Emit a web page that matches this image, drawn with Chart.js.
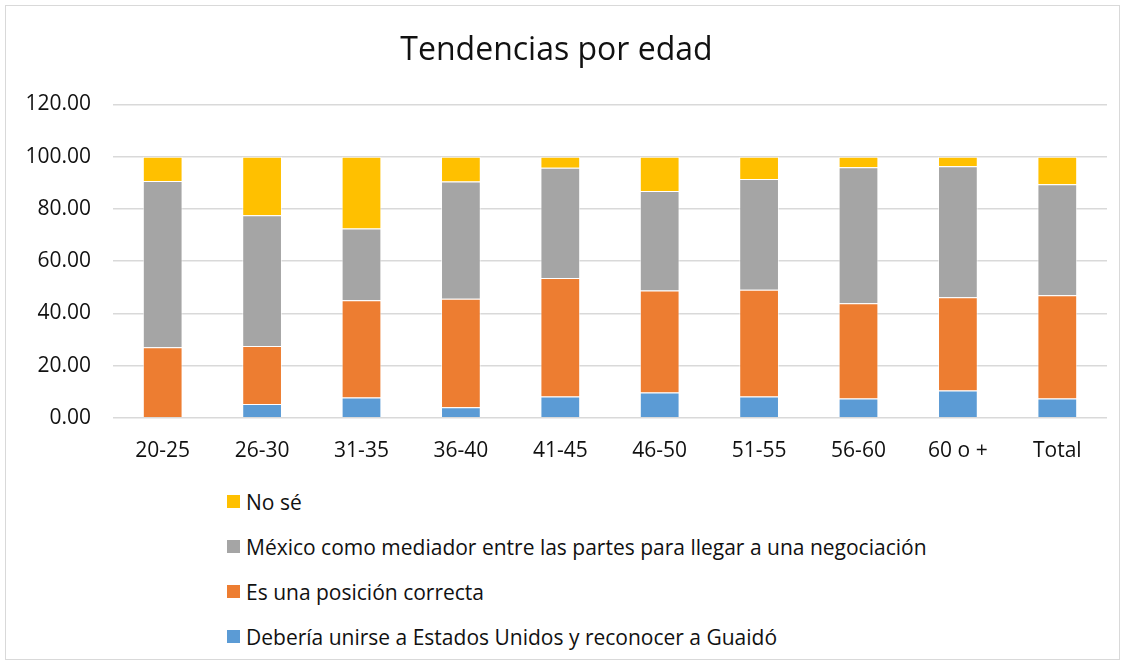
<!DOCTYPE html>
<html>
<head>
<meta charset="utf-8">
<script src="https://cdn.jsdelivr.net/npm/chart.js@4"></script>
<style>
  body { margin: 0; background: #fff; font-family: "Open Sans", Lato, sans-serif; }
  #frame { position: absolute; left: 5px; top: 5px; width: 1113px; height: 653px; border: 1px solid #d9d9d9; background: #fff; }
  #chartBox { position: absolute; left: 0; top: 0; width: 1113px; height: 471px; }
  #legend { position: absolute; left: 221px; top: 473px; }
  .item { height: 45px; display: flex; align-items: center; font-size: 21px; color: #111; white-space: nowrap; }
  .box { width: 13px; height: 13px; margin-right: 6px; flex: none; }
</style>
</head>
<body>
<div id="frame">
  <div id="chartBox"><canvas id="myChart"></canvas></div>
  <div id="legend"></div>
</div>
<script>
// Age groups
const categories = ['20-25', '26-30', '31-35', '36-40', '41-45', '46-50', '51-55', '56-60', '60 o +', 'Total'];

// Percentages per answer
const debeUnirse = [0.0, 5.3, 7.8, 4.0, 8.2, 9.7, 8.2, 7.4, 10.5, 7.4];
const posicionCorrecta = [27.0, 22.2, 37.2, 41.6, 45.3, 39.0, 40.8, 36.5, 35.7, 39.5];
const mediador = [63.7, 50.1, 27.5, 44.9, 42.2, 38.1, 42.4, 52.0, 50.1, 42.5];
const noSe = [9.3, 22.4, 27.5, 9.5, 4.3, 13.2, 8.6, 4.1, 3.7, 10.6];

const seriesNames = [
  'Debería unirse a Estados Unidos y reconocer a Guaidó',
  'Es una posición correcta',
  'México como mediador entre las partes para llegar a una negociación',
  'No sé'
];
const seriesColors = ['#5B9BD5', '#ED7D31', '#A5A5A5', '#FFC000'];
const seriesValues = [debeUnirse, posicionCorrecta, mediador, noSe];

const fontFamily = '"Open Sans", Lato, sans-serif';

const ctx = document.getElementById('myChart').getContext('2d');
const myChart = new Chart(ctx, {
    type: 'bar',
    data: {
        labels: categories,
        datasets: seriesNames.map((name, i) => ({
            label: name,
            data: seriesValues[i],
            backgroundColor: seriesColors[i],
            borderColor: 'rgba(255,255,255,0.6)',
            borderWidth: 1,
            categoryPercentage: 1,
            barPercentage: 0.4
        }))
    },
    options: {
        responsive: true,
        maintainAspectRatio: false,
        animation: false,
        layout: { padding: { top: 0, right: 12, bottom: 0, left: 0 } },
        plugins: {
            legend: { display: false },
            tooltip: { enabled: false },
            title: {
                display: true,
                text: 'Tendencias por edad',
                color: '#111',
                font: { family: fontFamily, size: 32, weight: 'normal' },
                padding: { top: 26, bottom: 34 }
            }
        },
        scales: {
            x: {
                stacked: true,
                grid: { display: false },
                border: { display: false },
                ticks: { color: '#111', font: { family: fontFamily, size: 21 }, padding: 13, maxRotation: 0 }
            },
            y: {
                stacked: true,
                min: 0,
                max: 120,
                afterFit: scale => { scale.width = 107; },
                grid: { color: '#d9d9d9', lineWidth: 1.5, drawTicks: false },
                border: { display: false },
                ticks: {
                    stepSize: 20,
                    padding: 22,
                    color: '#111',
                    font: { family: fontFamily, size: 21 },
                    callback: v => v.toFixed(2)
                }
            }
        }
    }
});

// Vertical legend, top series first
const legend = document.getElementById('legend');
for (let i = seriesNames.length - 1; i >= 0; i--) {
    const row = document.createElement('div');
    row.className = 'item';
    const box = document.createElement('span');
    box.className = 'box';
    box.style.background = seriesColors[i];
    row.appendChild(box);
    row.appendChild(document.createTextNode(seriesNames[i]));
    legend.appendChild(row);
}
</script>
</body>
</html>
